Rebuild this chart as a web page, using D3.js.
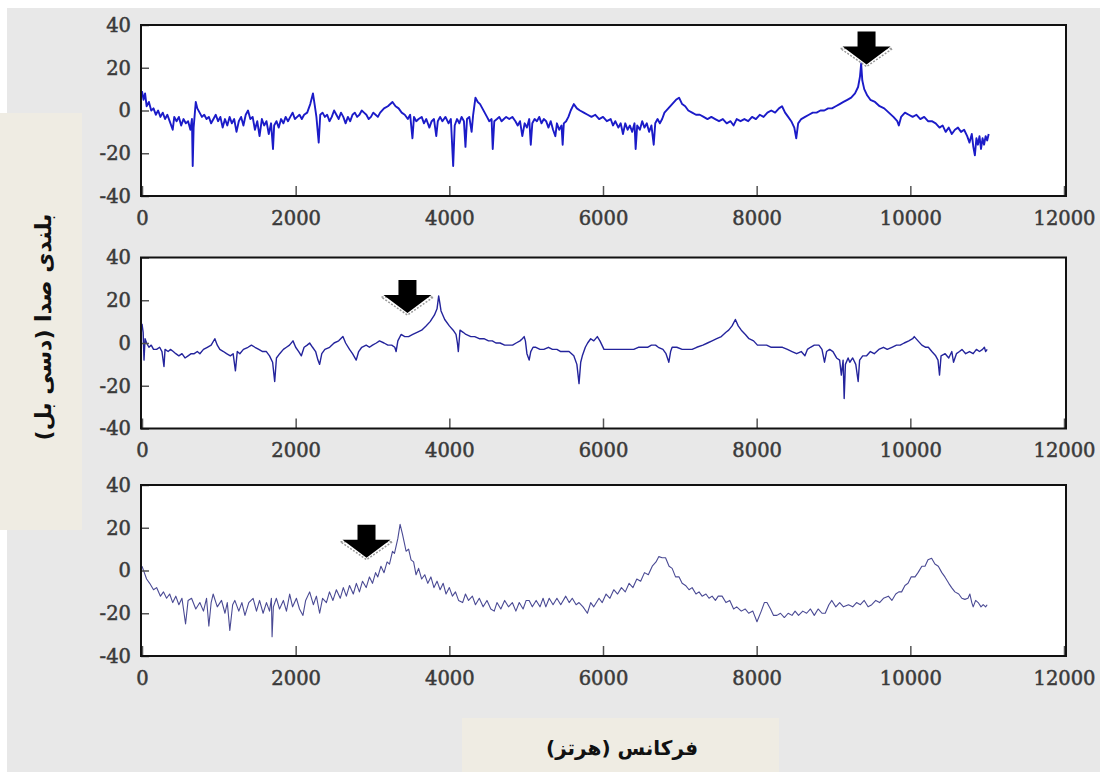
<!DOCTYPE html>
<html>
<head>
<meta charset="utf-8">
<script src="https://cdn.jsdelivr.net/npm/d3@7"></script>
<style>
  html, body { margin: 0; padding: 0; background: #fff; }
  svg { display: block; }
</style>
</head>
<body>
<svg id="chart" width="1102" height="772"></svg>
<script>
// x ticks / y ticks
const freqTicks = [0, 2000, 4000, 6000, 8000, 10000, 12000];
const dbTicks = [-40, -20, 0, 20, 40];
const yTitle = 'بلندی صدا (دسی بل)';
const xTitle = 'فرکانس (هرتز)';

// spectrum 1 [Hz, dB]
const spectrumTop = [
  [0,9],[20,5],[40,8],[60,2],[90,4],[120,0],[150,1],[180,-2],[210,0],[240,-3],[270,-1],[300,-4],[330,-2],[360,-5],[400,-9],[420,-3],
  [450,-5],[480,-3],[510,-7],[540,-4],[570,-6],[600,-5],[630,-9],[650,-4],[660,-26],[672,-8],[700,4],[720,1],[750,-1],[780,-3],
  [810,-2],[840,-4],[870,-3],[900,-6],[930,-4],[960,-2],[990,-5],[1020,-3],[1050,-8],[1080,-4],[1110,-7],[1140,-3],[1170,-6],
  [1200,-4],[1230,-10],[1260,-5],[1290,-3],[1320,-7],[1350,-2],[1380,0],[1410,-4],[1440,-3],[1470,-9],[1500,-5],[1530,-12],
  [1560,-4],[1590,-7],[1620,-5],[1650,-11],[1680,-6],[1705,-18],[1720,-7],[1750,-5],[1780,-8],[1810,-4],[1840,-6],[1870,-3],
  [1900,-5],[1930,-3],[1960,-1],[1990,-4],[2020,-3],[2050,-2],[2080,-4],[2110,-2],[2150,-1],[2190,3],[2225,8],[2250,2],[2270,-3],
  [2300,-15],[2320,-2],[2350,-1],[2380,-3],[2410,-2],[2440,-5],[2470,-3],[2500,0],[2530,-2],[2560,-4],[2590,-1],[2620,-3],
  [2650,-6],[2680,-3],[2710,-5],[2740,-2],[2770,-1],[2800,-3],[2830,-2],[2860,0],[2890,-1],[2920,-2],[2950,-4],[2980,-3],
  [3010,-1],[3040,-2],[3070,-3],[3100,-1],[3150,1],[3200,2],[3260,4],[3300,2],[3340,1],[3380,-1],[3420,-2],[3460,-4],[3490,-2],
  [3520,-13],[3540,-3],[3570,-5],[3600,-4],[3640,-3],[3670,-6],[3700,-4],[3740,-8],[3770,-5],[3800,-4],[3830,-12],[3850,-5],
  [3880,-3],[3910,-5],[3950,-3],[3990,-6],[4020,-4],[4050,-26],[4070,-7],[4100,-4],[4130,-6],[4160,-3],[4190,-5],[4210,-17],
  [4230,-4],[4260,-3],[4290,-10],[4310,-2],[4340,6],[4370,4],[4400,3],[4430,1],[4460,-1],[4490,-3],[4520,-5],[4550,-4],
  [4565,-18],[4585,-5],[4620,-4],[4650,-3],[4680,-5],[4710,-4],[4740,-3],[4780,-4],[4820,-3],[4860,-5],[4890,-7],[4920,-5],
  [4950,-12],[4980,-6],[5010,-8],[5040,-4],[5060,-16],[5080,-6],[5110,-4],[5140,-5],[5170,-3],[5200,-6],[5230,-4],[5260,-5],
  [5290,-8],[5320,-5],[5350,-9],[5380,-12],[5400,-6],[5430,-9],[5460,-7],[5475,-16],[5490,-6],[5520,-5],[5550,-3],[5580,0],
  [5620,3],[5660,1],[5700,0],[5750,-1],[5800,-2],[5850,-3],[5900,-2],[5950,-4],[6000,-3],[6050,-5],[6100,-4],[6130,-7],
  [6160,-5],[6200,-8],[6230,-6],[6260,-11],[6290,-6],[6320,-9],[6350,-7],[6380,-10],[6410,-6],[6425,-18],[6445,-7],[6480,-9],
  [6510,-5],[6540,-8],[6570,-6],[6600,-10],[6630,-7],[6660,-16],[6680,-6],[6710,-4],[6740,-6],[6770,-4],[6800,-1],[6850,1],
  [6900,3],[6950,5],[6990,6],[7030,3],[7070,2],[7110,0],[7160,-1],[7210,-2],[7260,-2],[7310,-3],[7360,-4],[7410,-3],[7460,-4],
  [7510,-5],[7560,-4],[7610,-6],[7660,-5],[7700,-7],[7740,-4],[7790,-5],[7840,-4],[7890,-5],[7940,-3],[7990,-4],[8040,-2],
  [8090,-3],[8140,-1],[8190,0],[8240,-1],[8290,1],[8330,2],[8370,-1],[8410,-3],[8450,-5],[8490,-8],[8515,-13],[8540,-6],
  [8580,-4],[8630,-3],[8680,-2],[8730,-1],[8780,-1],[8830,0],[8880,0],[8930,1],[8980,1],[9030,2],[9080,3],[9130,4],[9180,5],
  [9230,6],[9280,8],[9320,11],[9345,16],[9360,22],[9375,14],[9400,10],[9440,7],[9480,5],[9540,4],[9600,2],[9660,1],[9720,-1],
  [9780,-3],[9830,-5],[9850,-7],[9880,-3],[9930,-1],[9980,-2],[10030,-3],[10080,-2],[10130,-4],[10180,-3],[10230,-5],[10280,-5],
  [10330,-6],[10380,-8],[10420,-7],[10460,-10],[10500,-8],[10540,-11],[10580,-9],[10620,-8],[10660,-10],[10700,-9],[10740,-12],
  [10770,-15],[10800,-11],[10820,-17],[10840,-21],[10860,-13],[10880,-16],[10900,-12],[10920,-18],[10940,-13],[10960,-16],
  [10980,-12],[11000,-14],[11020,-11]
];

// spectrum 2 [Hz, dB]
const spectrumMid = [
  [0,9],[15,5],[26,-8],[40,2],[60,0],[90,-2],[120,-1],[150,-3],[190,-3],[230,-2],[260,-4],[286,-11],[300,-3],[340,-4],[370,-3],
  [407,-4],[440,-5],[480,-6],[520,-5],[560,-7],[600,-6],[640,-5],[680,-5],[720,-4],[753,-5],[800,-3],[850,-2],[900,-1],[948,2],
  [980,-1],[1013,-3],[1060,-4],[1100,-5],[1150,-6],[1186,-5],[1216,-13],[1240,-4],[1273,-5],[1320,-3],[1380,-2],[1424,-1],
  [1470,-2],[1520,-3],[1570,-4],[1619,-4],[1660,-6],[1700,-9],[1727,-18],[1750,-7],[1792,-5],[1840,-3],[1880,-2],[1920,-1],
  [1965,1],[2000,-2],[2040,-4],[2074,-6],[2110,-2],[2150,-1],[2182,0],[2220,-2],[2260,-4],[2290,-8],[2312,-10],[2340,-5],
  [2380,-3],[2442,-2],[2500,0],[2560,1],[2615,3],[2650,0],[2701,-3],[2740,-5],[2788,-8],[2820,-4],[2860,-2],[2918,-1],[2960,-2],
  [3000,-1],[3050,0],[3091,1],[3150,0],[3200,-1],[3250,-1],[3290,-2],[3307,-4],[3330,1],[3372,4],[3420,3],[3470,3],[3524,4],
  [3580,5],[3640,6],[3697,8],[3750,10],[3805,13],[3840,16],[3861,22],[3875,19],[3892,15],[3940,11],[4000,8],[4050,6],[4087,4],
  [4105,0],[4117,-4],[4130,2],[4139,6],[4180,5],[4216,4],[4280,3],[4330,3],[4390,2],[4450,2],[4510,1],[4560,1],[4606,0],
  [4660,0],[4720,-1],[4770,-1],[4823,-1],[4870,0],[4920,1],[4950,2],[4974,3],[4990,1],[5010,-5],[5039,-8],[5060,-4],[5090,-2],
  [5126,-2],[5180,-3],[5230,-3],[5290,-2],[5342,-3],[5400,-3],[5450,-4],[5500,-4],[5558,-4],[5620,-6],[5660,-10],[5688,-19],
  [5710,-9],[5731,-6],[5770,-2],[5800,0],[5840,2],[5880,1],[5926,3],[5960,1],[6013,-3],[6080,-3],[6150,-3],[6220,-3],[6280,-3],
  [6338,-3],[6400,-3],[6460,-2],[6520,-2],[6580,-2],[6630,-1],[6684,-1],[6720,-2],[6780,-3],[6820,-5],[6857,-9],[6880,-4],
  [6900,-2],[6960,-2],[7030,-3],[7100,-3],[7160,-3],[7220,-2],[7300,-1],[7360,0],[7420,1],[7480,2],[7540,3],[7600,5],[7636,6],
  [7680,8],[7723,11],[7760,8],[7800,6],[7853,4],[7900,2],[7960,1],[8010,-1],[8069,-1],[8130,-1],[8190,-2],[8240,-2],[8286,-2],
  [8336,-2],[8400,-3],[8460,-4],[8520,-5],[8580,-4],[8628,-6],[8660,-3],[8700,-2],[8750,-1],[8810,-1],[8850,-3],[8883,-9],
  [8910,-4],[8950,-3],[8993,-4],[9040,-7],[9080,-8],[9102,-15],[9125,-8],[9139,-26],[9155,-10],[9190,-7],[9212,-9],[9250,-7],
  [9290,-10],[9321,-18],[9340,-8],[9380,-6],[9431,-6],[9480,-4],[9530,-5],[9590,-3],[9650,-2],[9700,-3],[9760,-2],[9820,-1],
  [9869,-1],[9920,0],[9980,1],[10030,2],[10051,3],[10100,1],[10150,-1],[10200,-2],[10234,-2],[10280,-4],[10330,-6],[10360,-8],
  [10380,-15],[10400,-6],[10453,-5],[10500,-7],[10540,-4],[10562,-9],[10600,-5],[10640,-4],[10672,-3],[10720,-5],[10770,-4],
  [10818,-5],[10860,-3],[10900,-4],[10940,-3],[10964,-2],[10980,-4],[11000,-3]
];

// spectrum 3 [Hz, dB]
const spectrumLow = [
  [0,2],[30,-1],[60,-4],[100,-6],[150,-9],[190,-8],[240,-12],[280,-10],[320,-13],[360,-11],[400,-15],[440,-12],[480,-16],
  [520,-13],[567,-25],[600,-14],[645,-13],[700,-18],[753,-15],[800,-19],[840,-13],[870,-26],[900,-15],[926,-11],[980,-17],
  [1035,-14],[1080,-20],[1110,-15],[1143,-28],[1180,-16],[1208,-14],[1260,-19],[1300,-15],[1340,-21],[1390,-15],[1446,-13],
  [1490,-19],[1530,-14],[1576,-20],[1620,-15],[1660,-19],[1684,-13],[1693,-31],[1710,-17],[1749,-13],[1790,-18],[1840,-14],
  [1880,-19],[1922,-11],[1960,-17],[2010,-13],[2050,-18],[2095,-21],[2130,-14],[2182,-10],[2230,-16],[2270,-12],[2312,-20],
  [2350,-13],[2400,-15],[2440,-10],[2485,-14],[2530,-9],[2580,-13],[2620,-8],[2660,-12],[2701,-7],[2750,-11],[2790,-6],
  [2830,-10],[2870,-5],[2918,-8],[2960,-3],[3000,-6],[3040,-1],[3069,-3],[3110,2],[3150,-1],[3190,4],[3221,3],[3260,9],
  [3286,8],[3330,15],[3359,21.6],[3390,17],[3420,12],[3437,9],[3470,10],[3502,5],[3535,4],[3567,-2],[3600,1],[3640,-4],
  [3680,-2],[3720,-6],[3760,-3],[3800,-8],[3840,-5],[3880,-9],[3920,-6],[3957,-11],[4000,-8],[4040,-12],[4080,-10],[4120,-14],
  [4173,-15],[4210,-11],[4250,-14],[4300,-12],[4340,-16],[4390,-13],[4440,-17],[4490,-14],[4540,-18],[4584,-19],[4620,-15],
  [4670,-18],[4720,-14],[4770,-17],[4820,-15],[4866,-19],[4910,-15],[4960,-18],[5000,-14],[5039,-14],[5080,-17],[5130,-14],
  [5180,-17],[5220,-13],[5256,-17],[5300,-13],[5350,-16],[5400,-13],[5450,-16],[5515,-12],[5560,-15],[5600,-13],[5650,-16],
  [5688,-15],[5740,-17],[5797,-20],[5840,-15],[5880,-17],[5948,-13],[5990,-15],[6040,-11],[6090,-13],[6140,-9],[6190,-11],
  [6240,-8],[6290,-10],[6340,-6],[6390,-8],[6440,-4],[6490,-5],[6540,-1],[6590,-2],[6641,2],[6690,4],[6727,6.5],[6770,6],
  [6814,6],[6860,2],[6900,1],[6944,-3],[6990,-3],[7030,-6],[7074,-7],[7120,-9],[7160,-8],[7210,-11],[7250,-10],[7290,-12],
  [7340,-11],[7380,-13],[7420,-12],[7463,-14],[7500,-12],[7550,-12],[7600,-15],[7650,-14],[7700,-18],[7740,-17],[7800,-19],
  [7850,-18],[7896,-20],[7950,-19],[8004,-24],[8060,-19],[8100,-15],[8134,-15],[8180,-18],[8220,-21],[8264,-21],[8310,-20],
  [8360,-22],[8410,-20],[8460,-21],[8500,-19],[8545,-21],[8600,-19],[8650,-20],[8700,-18],[8750,-21],[8800,-18],[8850,-20],
  [8892,-20],[8940,-16],[8978,-14],[9030,-17],[9080,-15],[9130,-17],[9195,-16],[9250,-17],[9300,-15],[9350,-16],[9400,-14],
  [9450,-17],[9498,-16],[9550,-14],[9600,-15],[9650,-13],[9714,-12],[9760,-14],[9810,-11],[9850,-10],[9887,-10],[9930,-7],
  [9970,-6],[10010,-3],[10061,-3],[10100,-1],[10150,2],[10191,2],[10230,5],[10277,5.7],[10320,3],[10364,2],[10410,-1],
  [10450,-3],[10500,-6],[10537,-8],[10580,-10],[10630,-11],[10670,-13],[10710,-13.5],[10750,-13],[10775,-11],[10800,-15],
  [10818,-17],[10850,-14],[10883,-15],[10920,-17],[10948,-16],[10980,-17],[11000,-16]
];

// arrows pointing at the resonance peaks
const peakArrows = [
  {panel: 0, freq: 9430, db: 21.5},
  {panel: 1, freq: 3455, db: 14},
  {panel: 2, freq: 2922, db: 6}
];

let svg = d3.select('#chart');
let W = 1102, H = 772;

svg.append('rect').attr('x', 0).attr('y', 0).attr('width', W).attr('height', H).attr('fill', '#ffffff');
svg.append('rect').attr('x', 7).attr('y', 8).attr('width', 1093).attr('height', 764).attr('fill', '#e8e8e8');

let left = 141, right = 1066;
let panelTops = [25, 257.5, 485];
let panelH = 171;
let panels = [
  {data: spectrumTop, color: '#1b1bc8', width: 1.9},
  {data: spectrumMid, color: '#24249c', width: 1.4},
  {data: spectrumLow, color: '#4a4a94', width: 1.1}
];

let xscale = d3.scaleLinear().domain([0, 12000]).range([142, 1064]);

panels.forEach((p, i) => {
    let top = panelTops[i];
    let yscale = d3.scaleLinear().domain([-40, 40]).range([top + panelH, top]);
    let g = svg.append('g');

    g.append('rect')
        .attr('x', left).attr('y', top)
        .attr('width', right - left).attr('height', panelH)
        .attr('fill', '#ffffff');

    let line = d3.line()
        .x(d => xscale(d[0]))
        .y(d => yscale(d[1]));

    g.append('path')
        .datum(p.data)
        .attr('fill', 'none')
        .attr('stroke', p.color)
        .attr('stroke-width', p.width)
        .attr('stroke-linejoin', 'round')
        .attr('d', line);

    let yaxis = d3.axisLeft(yscale).tickValues(dbTicks).tickSize(-8).tickPadding(10).tickFormat(d => String(d));
    let xaxis = d3.axisBottom(xscale).tickValues(freqTicks).tickSize(-10).tickPadding(15).tickFormat(d => String(d));

    let ya = g.append('g').attr('transform', 'translate(' + left + ',0)').call(yaxis);
    let xa = g.append('g').attr('transform', 'translate(0,' + (top + panelH) + ')').call(xaxis);
    [ya, xa].forEach(a => {
        a.select('.domain').remove();
        a.selectAll('line').attr('stroke', '#555').attr('stroke-width', 1.5);
        a.selectAll('text')
            .attr('fill', '#3a3a3a')
            .attr('stroke', '#3a3a3a')
            .attr('stroke-width', 0.5)
            .style('font-family', '"DejaVu Serif", serif')
            .style('font-size', '19.5px');
    });

    g.append('rect')
        .attr('x', left).attr('y', top)
        .attr('width', right - left).attr('height', panelH)
        .attr('fill', 'none')
        .attr('stroke', '#111')
        .attr('stroke-width', 2);

    peakArrows.filter(a => a.panel == i).forEach(a => {
        let ax = xscale(a.freq), ay = yscale(a.db);
        let ag = g.append('g').attr('transform', 'translate(' + ax + ',' + ay + ')');
        ag.append('path')
            .attr('d', 'M-26,-16 L26,-16 L0,2 Z')
            .attr('fill', 'none')
            .attr('stroke', '#999')
            .attr('stroke-width', 1.5)
            .attr('stroke-dasharray', '2,1.5');
        ag.append('path')
            .attr('d', 'M-9,-33 L9,-33 L9,-18 L24,-18 L0,0 L-24,-18 L-9,-18 Z')
            .attr('fill', '#000');
    });
});

// axis titles in beige boxes
svg.append('rect').attr('x', 0).attr('y', 113).attr('width', 82).attr('height', 417).attr('fill', '#efece3');
svg.append('text')
    .attr('transform', 'translate(43,327) rotate(-90)')
    .attr('text-anchor', 'middle')
    .attr('dominant-baseline', 'central')
    .attr('direction', 'rtl')
    .style('font-family', '"DejaVu Sans", sans-serif')
    .style('font-weight', 'bold')
    .style('font-size', '22px')
    .attr('fill', '#111')
    .text(yTitle);

svg.append('rect').attr('x', 462).attr('y', 718).attr('width', 317).attr('height', 54).attr('fill', '#efece3');
svg.append('text')
    .attr('x', 622).attr('y', 748)
    .attr('text-anchor', 'middle')
    .attr('dominant-baseline', 'central')
    .attr('direction', 'rtl')
    .style('font-family', '"DejaVu Sans", sans-serif')
    .style('font-weight', 'bold')
    .style('font-size', '20px')
    .attr('fill', '#111')
    .text(xTitle);
</script>
</body>
</html>
